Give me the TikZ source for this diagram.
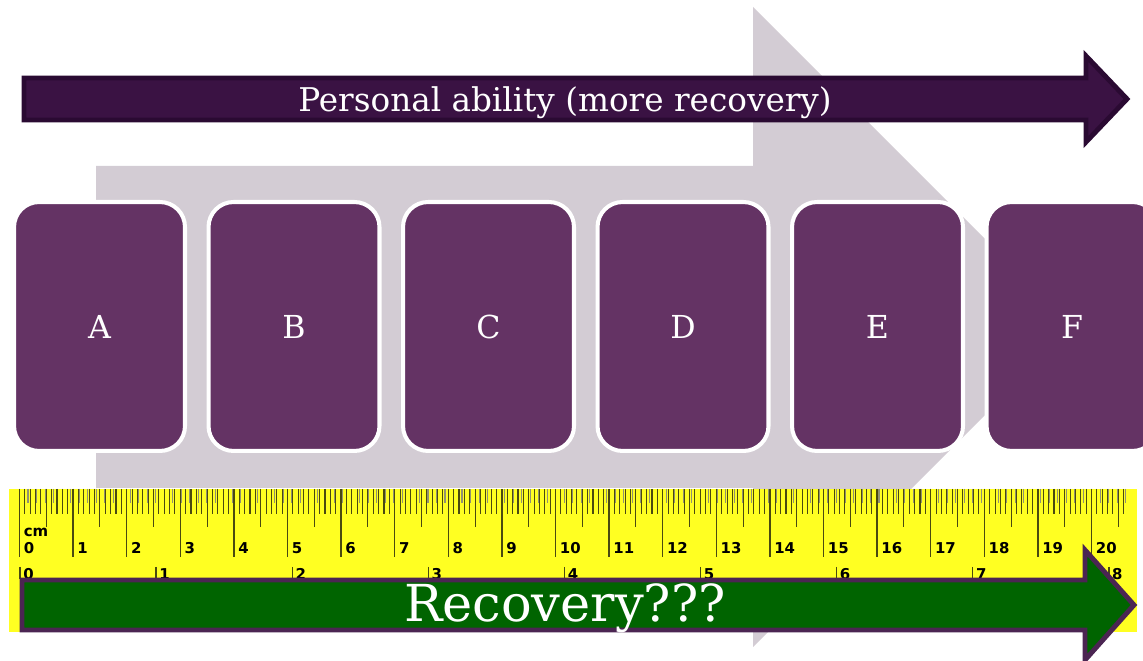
\documentclass[tikz,border=0pt]{standalone}
\usepackage{fontspec}
\setmainfont{DejaVu Serif}
\newfontfamily\rulerfont{DejaVu Sans}
\usetikzlibrary{positioning}

\definecolor{flowgray}{HTML}{D3CCD4}
\definecolor{abilityfill}{HTML}{3A1243}
\definecolor{abilityedge}{HTML}{2A0A32}
\definecolor{stagefill}{HTML}{643364}
\definecolor{rulerfill}{HTML}{FFFF22}
\definecolor{rulertick}{HTML}{4A4A10}
\definecolor{recoveryfill}{HTML}{006400}
\definecolor{recoveryedge}{HTML}{4B2552}

\begin{document}
\begin{tikzpicture}[
                x=0.02cm, y=-0.02cm,
                node distance=0.39cm,
                stage/.style={
                    rectangle,
                    draw=white,
                    line width=2.3pt,
                    fill=stagefill,
                    rounded corners=0.5cm,
                    minimum width=3.42cm,
                    minimum height=4.98cm,
                    text=white,
                    font=\fontsize{18}{22}\selectfont
                },
                tick/.style={
                    draw=rulertick,
                    line width=0.6pt
                },
                cmlabel/.style={
                    anchor=west,
                    inner sep=0pt,
                    font=\rulerfont\bfseries\fontsize{8.5}{9}\selectfont
                }]

                \useasboundingbox (0,0) rectangle (1143,661);

                % big grey flow arrow behind everything
                \fill [flowgray] (96,166) -- (753,166) -- (753,7) -- (1073,327)
                    -- (753,647) -- (753,488) -- (96,488) -- cycle;

                % personal ability arrow
                \draw [abilityedge, fill=abilityfill, line width=2.8pt, miter limit=3]
                    (24,78) -- (1086,78) -- (1086,56) -- (1127,99) -- (1086,142)
                    -- (1086,120) -- (24,120) -- cycle;
                \node [anchor=base, text=white, font=\fontsize{18.6}{21}\selectfont]
                    (ability) at (565,112) {Personal ability (more recovery)};

                % stages
                \node [stage] (stage_a) at (99.5,326.5) {A};
                \node [stage, right=of stage_a] (stage_b) {B};
                \node [stage, right=of stage_b] (stage_c) {C};
                \node [stage, right=of stage_c] (stage_d) {D};
                \node [stage, right=of stage_d] (stage_e) {E};
                \node [stage, right=of stage_e] (stage_f) {F};

                % ruler
                \fill [rulerfill] (9,489) rectangle (1137,632);
                \foreach \s in {0,...,130}
                    \draw [tick, draw=rulertick!60] ({19.5+8.51*\s},489) -- ++(0,14);
                \foreach \m in {0,...,206}
                    \draw [tick] ({19.5+5.36*\m},489) -- ++(0,25);
                \foreach \h in {0,...,20}
                    \draw [tick] ({19.5+53.6*\h+26.8},489) -- ++(0,38);
                \foreach \c in {0,...,20} {
                    \draw [tick, line width=0.8pt] ({19.5+53.6*\c},489) -- ++(0,68);
                    \node [cmlabel] (cm\c) at ({23.5+53.6*\c},548) {\c};
                }
                \node [cmlabel] (cm_unit) at (23.5,532) {cm};
                \foreach \i in {0,...,8} {
                    \draw [tick, line width=0.8pt] ({20+136.1*\i},567) -- ++(0,12);
                    \node [cmlabel, anchor=north west] (inch\i) at ({23+136.1*\i},568) {\i};
                }

                % recovery arrow
                \draw [recoveryedge, fill=recoveryfill, line width=2.8pt, miter limit=3]
                    (22,580) -- (1085,580) -- (1085,550) -- (1134,605) -- (1085,660)
                    -- (1085,630) -- (22,630) -- cycle;
                \node [anchor=base, text=white, font=\fontsize{29}{32}\selectfont]
                    (recovery) at (565,622) {Recovery???};

            \end{tikzpicture}
\end{document}
